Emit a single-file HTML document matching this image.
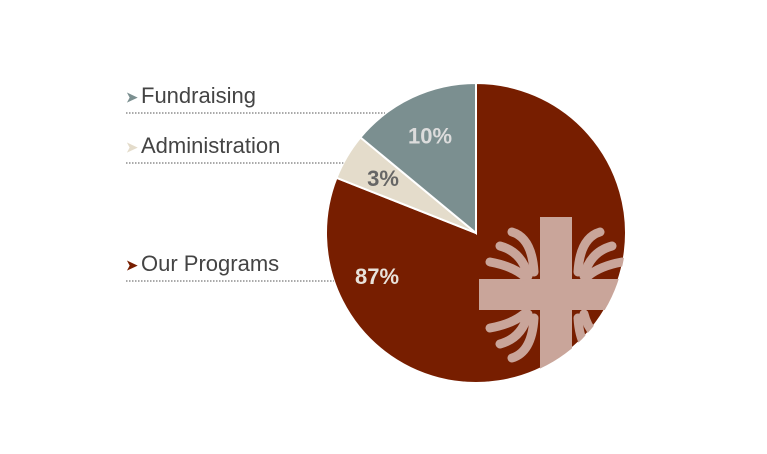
<!DOCTYPE html>
<html><head><meta charset="utf-8"><style>
html,body{margin:0;padding:0;background:#fff;}
svg{display:block;font-family:"Liberation Sans",sans-serif;}
</style></head><body>
<svg id="chart" width="767" height="454" viewBox="0 0 767 454">
<defs><clipPath id="pieclip"><circle cx="476" cy="233" r="150"/></clipPath></defs>
<g id="slices"></g>
<g clip-path="url(#pieclip)" fill="#c9a59a">
  <rect x="540" y="217" width="32" height="180"/>
  <rect x="479" y="279" width="160" height="31"/>
  <g fill="none" stroke="#c9a59a" stroke-width="9" stroke-linecap="round">
    <path d="M512 232 q20 6 22 40"/><path d="M500 246 q22 6 28 30"/><path d="M490 262 q22 4 34 14"/>
    <path d="M600 232 q-20 6 -22 40"/><path d="M612 246 q-22 6 -28 30"/><path d="M622 262 q-22 4 -34 14"/>
    <path d="M512 358 q20 -6 22 -40"/><path d="M500 344 q22 -6 28 -30"/><path d="M490 328 q22 -4 34 -14"/>
    <path d="M600 358 q-20 -6 -22 -40"/><path d="M612 344 q-22 -6 -28 -30"/>
  </g>
</g>
<g id="labels"></g>
</svg>
<script>
const categories = ["Our Programs", "Administration", "Fundraising"];
const shares = [81, 5, 14];
const valueLabels = ["87%", "3%", "10%"];
const colors = ["#771e00", "#e4dccb", "#7b8f90"];
const labelColors = ["#e8e2da", "#666666", "#dcdcdc"];
const cx = 476, cy = 233, r = 150;
const ns = "http://www.w3.org/2000/svg";
const total = shares.reduce((a,b)=>a+b,0);
function pt(frac, rad){const a = frac*2*Math.PI; return [cx + rad*Math.sin(a), cy - rad*Math.cos(a)];}
const gs = document.getElementById('slices'), gl = document.getElementById('labels');
let acc = 0;
const legendY = [263, 145, 95];
shares.forEach((v,i)=>{
  const f0 = acc/total, f1 = (acc+v)/total; acc += v;
  const p0 = pt(f0,r), p1 = pt(f1,r);
  const large = (f1-f0) > 0.5 ? 1 : 0;
  const p = document.createElementNS(ns,'path');
  p.setAttribute('d',`M${cx},${cy} L${p0[0]},${p0[1]} A${r},${r} 0 ${large} 1 ${p1[0]},${p1[1]} Z`);
  p.setAttribute('fill',colors[i]); p.setAttribute('stroke','#fff'); p.setAttribute('stroke-width','2');
  
  
  gs.appendChild(p);
  const mid = (f0+f1)/2;
  const lr = i===0 ? 0.75*r : 0.72*r;
  const lp = pt(mid, lr);
  const t = document.createElementNS(ns,'text');
  t.setAttribute('x', i===0 ? 377 : lp[0]); t.setAttribute('y', (i===0 ? 276 : lp[1]) + 8);
  t.setAttribute('text-anchor','middle'); t.setAttribute('font-size','22'); t.setAttribute('font-weight','bold');
  t.setAttribute('fill', labelColors[i]); t.textContent = valueLabels[i];
  
  
  gl.appendChild(t);
  // legend
  const ly = legendY[i];
  const ch = document.createElementNS(ns,'text');
  ch.setAttribute('x',126); ch.setAttribute('y',ly+7); ch.setAttribute('font-size','14'); ch.setAttribute('fill',colors[i]); ch.setAttribute('font-weight','bold');
  ch.textContent = '➤';
  
  
  gl.appendChild(ch);
  const lt = document.createElementNS(ns,'text');
  lt.setAttribute('x',141); lt.setAttribute('y',ly+8); lt.setAttribute('font-size','22'); lt.setAttribute('fill','#444');
  lt.textContent = categories[i];
  
  
  gl.appendChild(lt);
  const ln = document.createElementNS(ns,'line');
  const lineY = ly + 18;
  const dy = lineY - cy; const xEdge = cx - Math.sqrt(Math.max(0, r*r - dy*dy));
  ln.setAttribute('x1',126); ln.setAttribute('x2', i===2 ? 385 : xEdge); ln.setAttribute('y1',lineY); ln.setAttribute('y2',lineY);
  ln.setAttribute('stroke','#555'); ln.setAttribute('stroke-width','1'); ln.setAttribute('stroke-dasharray','1.5,1.5');
  
  
  gl.appendChild(ln);
});
</script>
</body></html>
